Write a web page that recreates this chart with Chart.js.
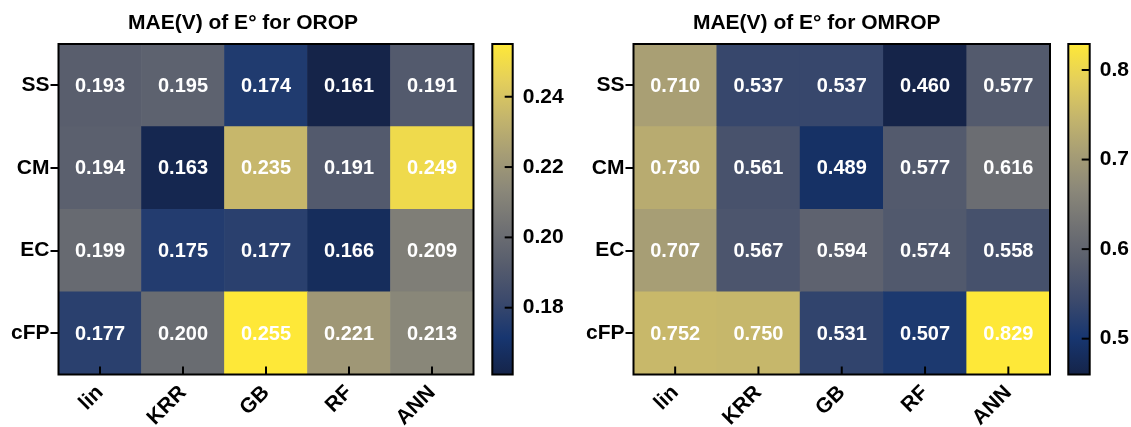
<!DOCTYPE html>
<html>
<head>
<meta charset="utf-8">
<script src="https://cdn.jsdelivr.net/npm/chart.js@4.4.1/dist/chart.umd.min.js"></script>
<style>
  html, body { margin: 0; padding: 0; background: #fff; }
  #wrap { position: relative; width: 1131px; height: 427px; overflow: hidden; }
  .box { position: absolute; top: 0; height: 427px; }
</style>
</head>
<body>
<div id="wrap">
  <div class="box" style="left:0;width:490px"><canvas id="hm1"></canvas></div>
  <div class="box" style="left:486px;width:100px"><canvas id="cb1"></canvas></div>
  <div class="box" style="left:560px;width:500px"><canvas id="hm2"></canvas></div>
  <div class="box" style="left:1062px;width:69px"><canvas id="cb2"></canvas></div>
</div>
<script>
const models = ['lin', 'KRR', 'GB', 'RF', 'ANN'];
const features = ['SS', 'CM', 'EC', 'cFP'];

// rows follow features (top to bottom), columns follow models
const orop = [
  [0.193, 0.195, 0.174, 0.161, 0.191],
  [0.194, 0.163, 0.235, 0.191, 0.249],
  [0.199, 0.175, 0.177, 0.166, 0.209],
  [0.177, 0.200, 0.255, 0.221, 0.213],
];
const omrop = [
  [0.710, 0.537, 0.537, 0.460, 0.577],
  [0.730, 0.561, 0.489, 0.577, 0.616],
  [0.707, 0.567, 0.594, 0.574, 0.558],
  [0.752, 0.750, 0.531, 0.507, 0.829],
];
const oropTicks = [0.18, 0.20, 0.22, 0.24];
const omropTicks = [0.5, 0.6, 0.7, 0.8];

// cividis-like, evenly spaced stops (dark end a touch lighter, as in the figure)
const cividis = ['#152449', '#173670', '#3b496c', '#575d6d', '#707173',
                 '#8a8779', '#a69d75', '#c4b56c', '#e4cf5b', '#fee838'];

const FONT = '"Liberation Sans", Arial, Helvetica, sans-serif';
Chart.defaults.font.family = FONT;
Chart.defaults.color = '#000';

function hexRgb(h) {
  return [1, 3, 5].map(i => parseInt(h.substr(i, 2), 16));
}

function cividisAt(t) {
  t = Math.max(0, Math.min(1, t));
  const pos = t * (cividis.length - 1);
  const i = Math.min(Math.floor(pos), cividis.length - 2);
  const f = pos - i;
  const a = hexRgb(cividis[i]), b = hexRgb(cividis[i + 1]);
  const c = a.map((v, k) => Math.round(v + (b[k] - v) * f));
  return `rgb(${c[0]}, ${c[1]}, ${c[2]})`;
}

// cell numbers, inward x ticks, frame and panel title
const cellText = {
  id: 'cellText',
  afterDatasetsDraw(chart, args, opts) {
    const ctx = chart.ctx;
    const a = chart.chartArea;
    ctx.save();
    ctx.font = 'bold 20px ' + FONT;
    ctx.fillStyle = '#fff';
    ctx.textAlign = 'center';
    ctx.textBaseline = 'middle';
    chart.data.datasets.forEach((ds, i) => {
      chart.getDatasetMeta(i).data.forEach((bar, j) => {
        const p = bar.getCenterPoint();
        ctx.fillText(ds.values[j].toFixed(3), p.x, p.y + 1);
      });
    });

    const xs = chart.scales.x;
    ctx.strokeStyle = '#000';
    ctx.lineWidth = 2;
    xs.ticks.forEach((t, i) => {
      const x = xs.getPixelForTick(i);
      ctx.beginPath();
      ctx.moveTo(x, a.bottom);
      ctx.lineTo(x, a.bottom - 8);
      ctx.stroke();
    });
    ctx.strokeRect(a.left, a.top, a.right - a.left, a.bottom - a.top);

    ctx.fillStyle = '#000';
    ctx.font = 'bold 21px ' + FONT;
    ctx.textBaseline = 'alphabetic';
    ctx.fillText(opts.title, opts.titleX, 28.5);
    ctx.restore();
  }
};

function heatmap(id, title, values, titleX, yWidth, padRight) {
  const flat = values.flat();
  const vmin = Math.min(...flat), vmax = Math.max(...flat);
  // stacked bars start at the bottom, so the last feature goes first
  const datasets = values.map((row, r) => ({
    label: features[r],
    data: row.map(() => 1),
    values: row,
    backgroundColor: row.map(v => cividisAt((v - vmin) / (vmax - vmin))),
    borderWidth: 0,
    barPercentage: 1,
    categoryPercentage: 1,
  })).reverse();

  new Chart(document.getElementById(id), {
    type: 'bar',
    data: { labels: models, datasets },
    options: {
      responsive: true,
      maintainAspectRatio: false,
      animation: false,
      layout: { padding: { top: 44, bottom: 0, left: 0, right: padRight } },
      plugins: {
        legend: { display: false },
        tooltip: { enabled: false },
        cellText: { title, titleX },
      },
      scales: {
        x: {
          stacked: true,
          grid: { display: false, drawTicks: false },
          border: { display: false },
          ticks: {
            autoSkip: false,
            minRotation: 45,
            maxRotation: 45,
            padding: 6,
            color: '#000',
            font: { size: 21, weight: 'bold' },
          },
          afterFit: s => { s.height = 52.5; },
        },
        y: {
          stacked: true,
          min: 0,
          max: features.length,
          afterBuildTicks: s => {
            s.ticks = features.map((f, i) => ({ value: features.length - i - 0.5 }));
          },
          ticks: {
            autoSkip: false,
            padding: 1,
            color: '#000',
            font: { size: 21, weight: 'bold' },
            callback: v => features[features.length - 1 - Math.floor(v)],
          },
          grid: { drawOnChartArea: false, tickLength: 8, color: '#000', lineWidth: 2 },
          border: { display: false },
          afterFit: s => { s.width = yWidth; },
        },
      },
    },
    plugins: [cellText],
  });
}

// colourbar frame and inward ticks
const cbFrame = {
  id: 'cbFrame',
  afterDatasetsDraw(chart) {
    const ctx = chart.ctx;
    const a = chart.chartArea;
    const ys = chart.scales.y;
    ctx.save();
    ctx.strokeStyle = '#000';
    ctx.lineWidth = 2;
    ys.ticks.forEach((t, i) => {
      const y = ys.getPixelForTick(i);
      ctx.beginPath();
      ctx.moveTo(a.right - 8, y);
      ctx.lineTo(a.right, y);
      ctx.stroke();
    });
    ctx.strokeRect(a.left, a.top, a.right - a.left, a.bottom - a.top);
    ctx.restore();
  }
};

function cbGradient(chart) {
  const a = chart.chartArea;
  if (!a) return null;
  const g = chart.ctx.createLinearGradient(0, a.bottom, 0, a.top);
  cividis.forEach((c, i) => g.addColorStop(i / (cividis.length - 1), c));
  return g;
}

function colorbar(id, values, ticks, digits, yWidth) {
  const flat = values.flat();
  const vmin = Math.min(...flat), vmax = Math.max(...flat);
  new Chart(document.getElementById(id), {
    type: 'bar',
    data: {
      labels: [''],
      datasets: [{
        data: [[vmin, vmax]],
        backgroundColor: c => cbGradient(c.chart),
        borderWidth: 0,
        barPercentage: 1,
        categoryPercentage: 1,
      }],
    },
    options: {
      responsive: true,
      maintainAspectRatio: false,
      animation: false,
      layout: { padding: { top: 44, bottom: 52.5, left: 6.3, right: 0 } },
      plugins: { legend: { display: false }, tooltip: { enabled: false } },
      scales: {
        x: { display: false },
        y: {
          position: 'right',
          min: vmin,
          max: vmax,
          afterBuildTicks: s => { s.ticks = ticks.map(v => ({ value: v })); },
          ticks: {
            padding: 10,
            color: '#000',
            font: { size: 21, weight: 'bold' },
            callback: v => v.toFixed(digits),
          },
          grid: { display: false, drawTicks: false },
          border: { display: false },
          afterFit: s => { s.width = yWidth; },
        },
      },
    },
    plugins: [cbFrame],
  });
}

heatmap('hm1', 'MAE(V) of E° for OROP', orop, 243, 58.5, 16.5);
colorbar('cb1', orop, oropTicks, 2, 73.3);
heatmap('hm2', 'MAE(V) of E° for OMROP', omrop, 256.7, 73.5, 10);
colorbar('cb2', omrop, omropTicks, 1, 41.3);
</script>
</body>
</html>
